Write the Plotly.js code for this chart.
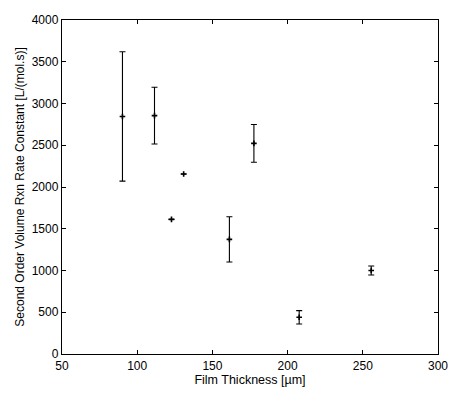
<!DOCTYPE html>
<html>
<head>
<script src="https://cdn.plot.ly/plotly-3.0.1.min.js"></script>
<style>body{margin:0;padding:0;background:#fff;}#chart{width:454px;height:394px;}</style>
</head>
<body>
<div id="chart"></div>
<script>
const thickness = [90.2, 111.5, 122.8, 130.9, 161.3, 177.6, 207.7, 255.6];
const rateConstant = [2845, 2855, 1612, 2155, 1373, 2523, 440, 1000];
const rateError = [775, 340, 0, 0, 271, 226, 80, 54];
const xTicks = [50, 100, 150, 200, 250, 300];
const yTicks = [0, 500, 1000, 1500, 2000, 2500, 3000, 3500, 4000];

const trace = {
  x: thickness,
  y: rateConstant,
  type: 'scatter',
  mode: 'markers',
  marker: {symbol: 'cross-thin', size: 4, color: '#000', line: {width: 1.6, color: '#000'}},
  error_y: {type: 'data', array: rateError, visible: true, color: '#000', thickness: 1.1, width: 3}
};

const fontFam = 'Liberation Sans, Arial, sans-serif';
const axisCommon = {
  showgrid: false, zeroline: false, showline: true, mirror: 'ticks',
  linecolor: '#000', linewidth: 1.2, ticks: 'inside', ticklen: 4, tickcolor: '#000',
  tickfont: {family: fontFam, size: 12, color: '#000'}
};

const layout = {
  width: 454, height: 394,
  margin: {l: 62, r: 15.5, t: 20, b: 40},
  paper_bgcolor: '#fff', plot_bgcolor: '#fff',
  showlegend: false,
  xaxis: Object.assign({}, axisCommon, {
    range: [50, 300], tickvals: xTicks, ticktext: xTicks.map(String),
    title: {text: 'Film Thickness [\u00b5m]', standoff: 0, font: {family: fontFam, size: 12.5, color: '#000'}}
  }),
  yaxis: Object.assign({}, axisCommon, {
    range: [0, 4000], tickvals: yTicks, ticktext: yTicks.map(String),
    title: {text: 'Second Order Volume Rxn Rate Constant [L/(mol.s)]', standoff: 4, font: {family: fontFam, size: 12, color: '#000'}}
  })
};

Plotly.newPlot('chart', [trace], layout, {staticPlot: true, displayModeBar: false});
</script>
</body>
</html>
